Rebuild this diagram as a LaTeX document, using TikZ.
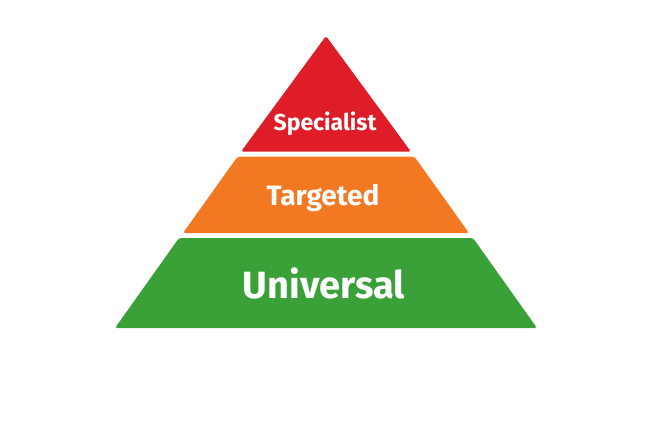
\documentclass[tikz,border=0pt]{standalone}
\usepackage{fontspec}
\setmainfont{Fira Sans}
\definecolor{pyrred}{RGB}{223,29,40}
\definecolor{pyrorange}{RGB}{242,121,34}
\definecolor{pyrgreen}{RGB}{57,161,55}
\begin{document}
\begin{tikzpicture}[x=1pt,y=-1pt,
  band/.style={rounded corners=2.5pt},
  lbl/.style={text=white,font=\bfseries,anchor=base,inner sep=0pt}]
\useasboundingbox (0,0) rectangle (649,432);
% apex (326,33), half-width = 0.715*(y-33)
\fill[pyrred,band] (326,36) -- (411,151.7) -- (241,151.7) -- cycle;
\fill[pyrorange,band] (414.5,156.7) -- (469,233) -- (183,233) -- (237.5,156.7) -- cycle;
\fill[pyrgreen,band] (473,238) -- (537,328) -- (115,328) -- (179,238) -- cycle;
\node[lbl,font=\bfseries\fontsize{23}{23}\selectfont] (spec) at (325,130) {Specialist};
\node[lbl,font=\bfseries\fontsize{28}{28}\selectfont] (targ) at (323,205) {Targeted};
\node[lbl,font=\bfseries\fontsize{38}{38}\selectfont] (univ) at (324,298) {Universal};
\end{tikzpicture}
\end{document}
